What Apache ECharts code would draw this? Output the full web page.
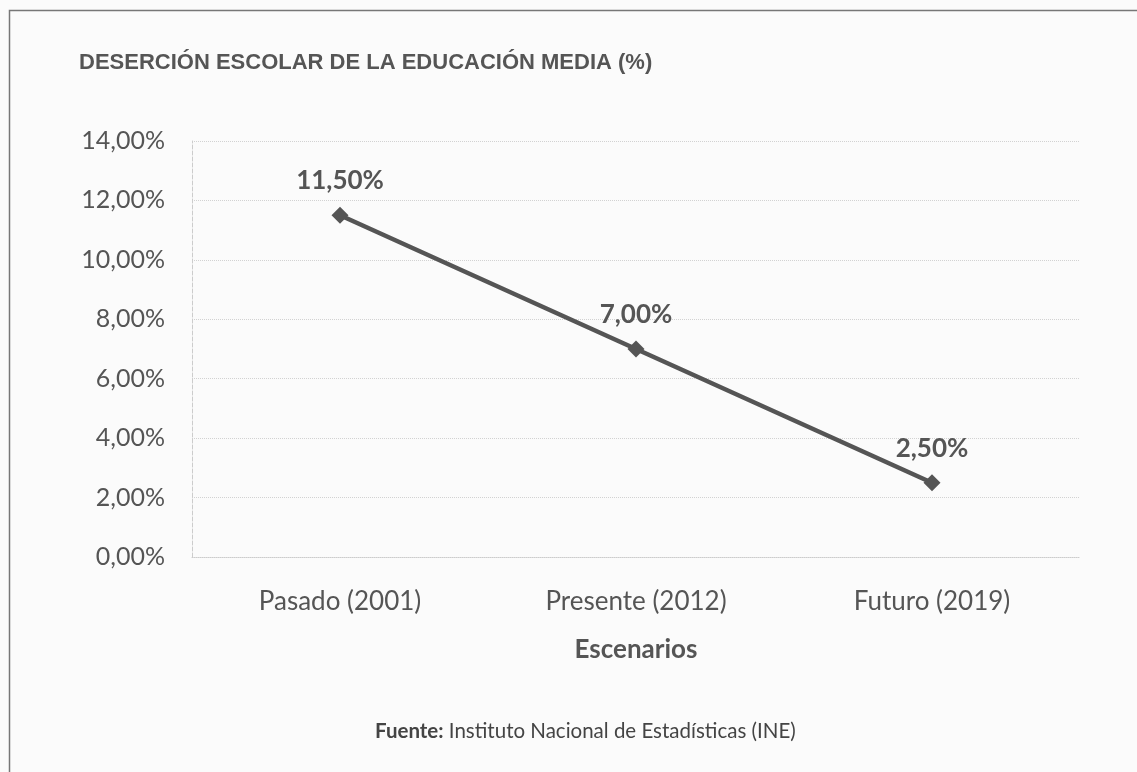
<!DOCTYPE html>
<html lang="es">
<head>
    <meta charset="UTF-8">
    <title>Deserción escolar de la educación media</title>
    <script src="https://cdn.jsdelivr.net/npm/echarts@6/dist/echarts.min.js"></script>
    <style>
        body { margin: 0; padding: 0; background: #fbfbfb; }
        #chart { width: 1137px; height: 772px; }
    </style>
</head>
<body>
<div id="chart"></div>
<script>
    // datos del gráfico
    const escenarios = ['Pasado (2001)', 'Presente (2012)', 'Futuro (2019)'];
    const desercion = [11.5, 7.0, 2.5];
    const yMin = 0, yMax = 14, yStep = 2;

    const fmt = v => v.toFixed(2).replace('.', ',') + '%';
    const gris = '#555555';

    const chart = echarts.init(document.getElementById('chart'));
    chart.setOption({
        backgroundColor: '#fbfbfb',
        title: [{
            text: 'DESERCIÓN ESCOLAR DE LA EDUCACIÓN MEDIA (%)',
            left: 74, top: 47,
            textStyle: { fontFamily: 'Liberation Sans', fontSize: 22, fontWeight: 'bold', color: gris }
        }, {
            text: '{b|Fuente:} Instituto Nacional de Estadísticas (INE)',
            left: 370, top: 716,
            textStyle: {
                fontFamily: 'Lato', fontSize: 20.5, fontWeight: 'normal', color: '#444',
                rich: { b: { fontFamily: 'Lato', fontSize: 20.5, fontWeight: 'bold', color: '#444' } }
            }
        }],
        graphic: [{
            type: 'rect', left: 7, top: 8,
            shape: { width: 1140, height: 780 },
            style: { fill: 'none', stroke: '#777', lineWidth: 1.5 }
        }],
        grid: { left: 192, right: 57, top: 141, bottom: 215 },
        xAxis: {
            type: 'category',
            data: escenarios,
            name: 'Escenarios',
            nameLocation: 'middle',
            nameGap: 80,
            nameTextStyle: { fontFamily: 'Lato', fontSize: 26, fontWeight: 'bold', color: gris },
            axisLine: { show: true, lineStyle: { color: '#ccc', type: 'dotted' } },
            axisTick: { show: false },
            axisLabel: { fontFamily: 'Lato', fontSize: 26, color: gris, margin: 32 }
        },
        yAxis: {
            type: 'value',
            min: yMin, max: yMax, interval: yStep,
            axisLine: { show: true, lineStyle: { color: '#ccc', type: 'dashed' } },
            axisTick: { show: false },
            splitLine: { lineStyle: { color: '#d2d2d2', type: 'dotted' } },
            axisLabel: { fontFamily: 'Lato', fontSize: 25, color: gris, margin: 27, formatter: fmt }
        },
        series: [{
            type: 'line',
            data: desercion,
            symbol: 'diamond',
            symbolSize: 17,
            lineStyle: { color: gris, width: 4.5 },
            itemStyle: { color: gris },
            label: {
                show: true, position: 'top', distance: 13,
                fontFamily: 'Lato', fontSize: 26, fontWeight: 'bold', color: gris,
                formatter: p => fmt(p.value)
            }
        }]
    });
</script>
</body>
</html>
